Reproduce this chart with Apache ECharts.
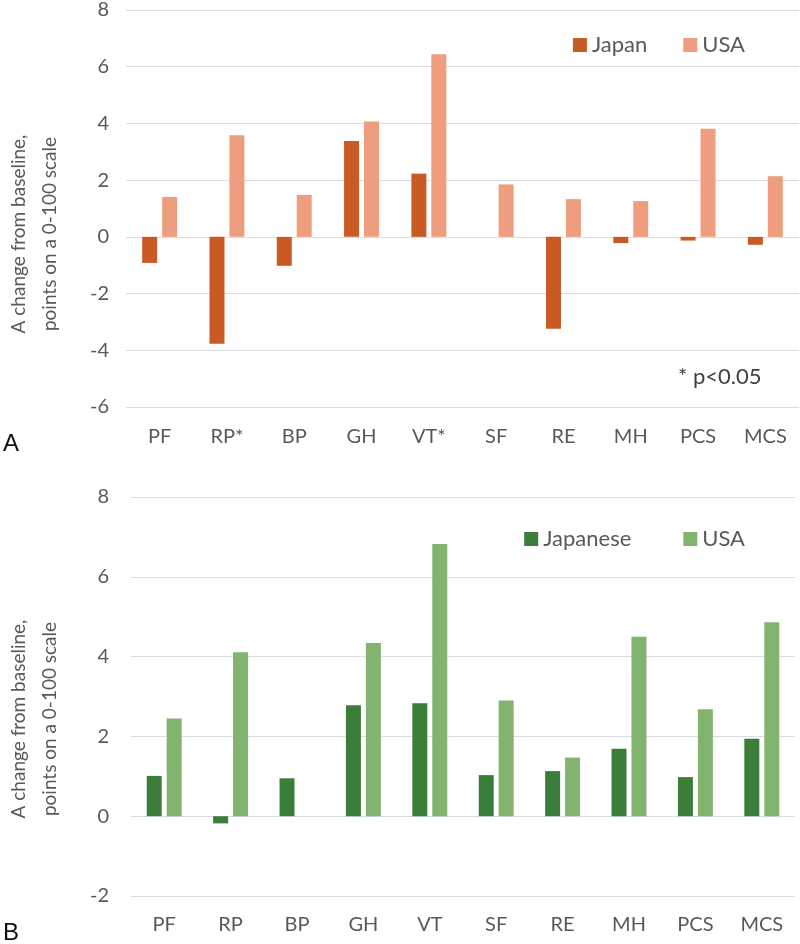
<!DOCTYPE html>
<html><head><meta charset="utf-8">
<script src="https://cdn.jsdelivr.net/npm/echarts@6/dist/echarts.min.js"></script>
<style>html,body{margin:0;padding:0;background:#fff}#a{position:absolute;left:0;top:0;width:800px;height:470px}#b{position:absolute;left:0;top:470px;width:800px;height:474px}</style>
</head><body><div id="a"></div><div id="b"></div>
<script>
const catsA = ['PF','RP*','BP','GH','VT*','SF','RE','MH','PCS','MCS'];
const japanA = [-0.92,-3.77,-1.02,3.38,2.23,0,-3.24,-0.22,-0.13,-0.28];
const usaA = [1.41,3.58,1.48,4.07,6.44,1.85,1.33,1.26,3.81,2.14];
const ticksA = {min:-6,max:8,interval:2};

const catsB = ['PF','RP','BP','GH','VT','SF','RE','MH','PCS','MCS'];
const japanB = [1.01,-0.18,0.95,2.78,2.83,1.03,1.13,1.69,0.98,1.94];
const usaB = [2.45,4.11,0,4.34,6.82,2.9,1.47,4.5,2.68,4.86];
const ticksB = {min:-2,max:8,interval:2};

const FONT = 'Lato';
const TXT = '#595959';

function makeOpt(cats, s1name, s1, s2name, s2, ticks, c1, c2, grid, legendGap, yLabelMargin, panel, panelY, titleY, extra){
  const g = [
    {type:'text', left:3, top:panelY, style:{text:panel, font:'24px Liberation Sans', fill:'#111'}},
    {type:'text', x:19, y:titleY, rotation:Math.PI/2, style:{text:'A change from baseline,', font:'19px '+FONT, fill:TXT, align:'center', verticalAlign:'middle'}},
    {type:'text', x:50, y:titleY, rotation:Math.PI/2, style:{text:'points on a 0-100 scale', font:'19px '+FONT, fill:TXT, align:'center', verticalAlign:'middle'}}
  ];
  if (extra) g.push(extra);
  return {
    animation:false,
    grid:grid,
    legend:{right:50, top:grid.legendTop, itemWidth:14, itemHeight:14, itemGap:legendGap, icon:'rect',
      textStyle:{fontFamily:FONT, fontSize:22, color:TXT}, data:[s1name, s2name]},
    xAxis:{type:'category', data:cats, axisLine:{show:false, onZero:false}, axisTick:{show:false},
      axisLabel:{color:TXT, fontFamily:FONT, fontSize:20, margin:grid.xMargin}},
    yAxis:{type:'value', min:ticks.min, max:ticks.max, interval:ticks.interval,
      axisLabel:{color:TXT, fontFamily:FONT, fontSize:20, margin:yLabelMargin},
      splitLine:{lineStyle:{color:'#D6DEE4', width:1.2}}},
    series:[
      {name:s1name, type:'bar', data:s1, barWidth:15, barGap:'33%', itemStyle:{color:c1}},
      {name:s2name, type:'bar', data:s2, barWidth:15, barGap:'33%', itemStyle:{color:c2}}
    ],
    graphic:g
  };
}

const ca = echarts.init(document.getElementById('a'));
ca.setOption(makeOpt(catsA,'Japan',japanA,'USA',usaA,ticksA,'#C95A23','#EE9E7E',
  {left:126, right:1, top:9, height:398, legendTop:29, xMargin:20}, 36, 17, 'A', 432, 234,
  {type:'text', left:678, top:366, style:{text:'* p<0.05', font:'22px '+FONT, fill:'#404040'}}));

const cb = echarts.init(document.getElementById('b'));
cb.setOption(makeOpt(catsB,'Japanese',japanB,'USA',usaB,ticksB,'#3B7E3A','#82B36F',
  {left:131, right:5, top:27, height:399, legendTop:53, xMargin:19}, 52, 22, 'B', 451, 249, null));
</script></body></html>
